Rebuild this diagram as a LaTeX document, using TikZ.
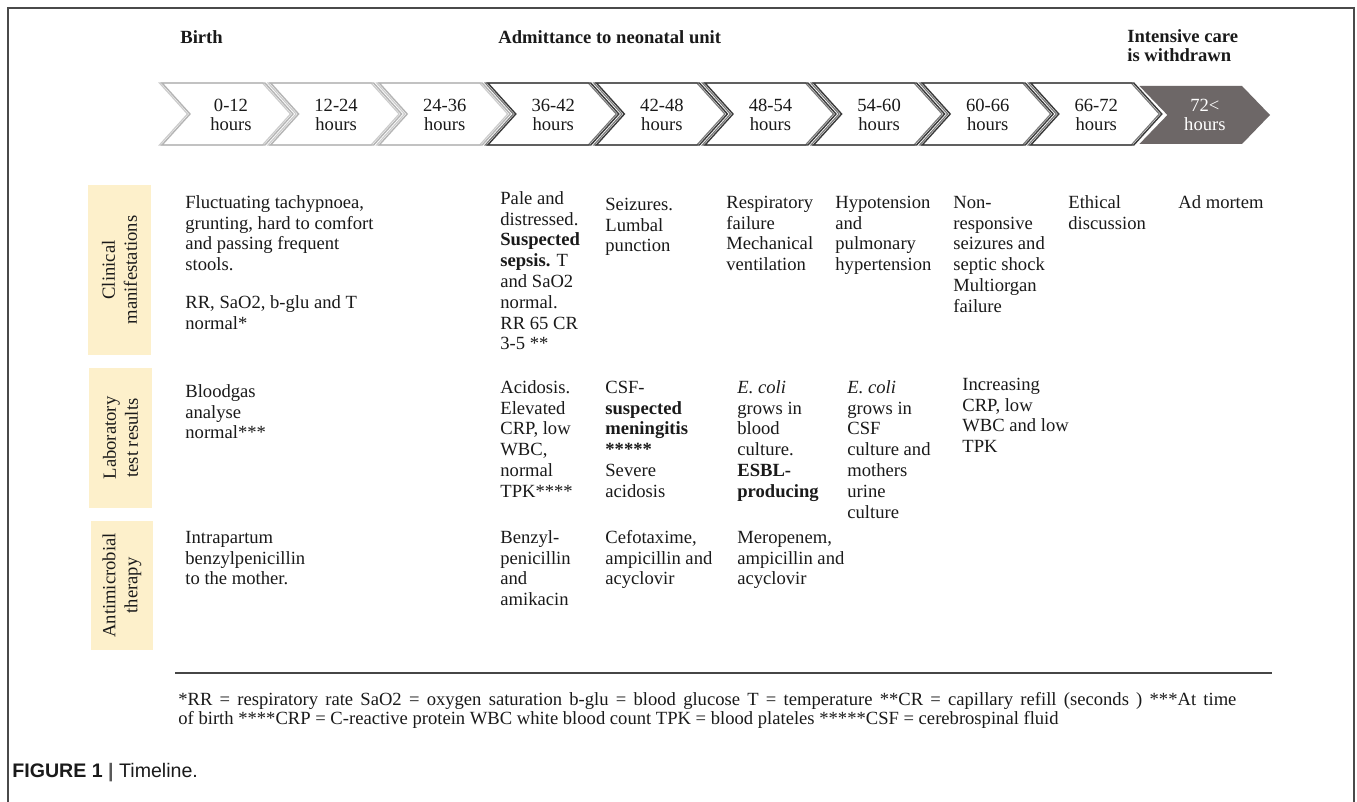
\documentclass[tikz,border=0pt]{standalone}
\usepackage{fontspec}
\setmainfont{Liberation Serif}
\newfontfamily\capfont{Liberation Sans}
\definecolor{beige}{HTML}{FDF0CB}
\definecolor{txt}{HTML}{1A1A1A}
\definecolor{lightedge}{HTML}{B4B4B4}
\definecolor{lightshadow}{HTML}{CCCCCC}
\definecolor{darkedge}{HTML}{3A3A3A}
\definecolor{darkshadow}{HTML}{7A7A7A}
\definecolor{darkfill}{HTML}{6D6767}
\definecolor{framegray}{HTML}{4A4A4A}
\tikzset{
  x=0.5pt, y=-0.5pt,
  body/.style={anchor=north west, inner sep=0pt, align=left, text=txt,
    font=\fontsize{9.3}{10.4}\selectfont},
  hourlab/.style={anchor=north, inner sep=0pt, align=center, text=txt,
    font=\fontsize{9.3}{9.5}\selectfont},
  header/.style={inner sep=0pt, align=left, text=txt,
    font=\fontsize{9.3}{8}\selectfont\bfseries},
  rowbox/.style={fill=beige, draw=none},
  rowlab/.style={rotate=90, align=center, inner sep=0pt, text=txt,
    font=\fontsize{9.3}{11}\selectfont},
  foot/.style={anchor=base west, inner sep=0pt, text=txt,
    font=\fontsize{9.3}{11}\selectfont},
}
\begin{document}
\begin{tikzpicture}
\useasboundingbox (0,0) rectangle (1357,802);
\fill[white] (0,0) rectangle (1357,802);
% frame
\draw[framegray, line width=0.8pt] (8,802) -- (8,8) -- (1354,8) -- (1354,802);

% headers
\node[header, anchor=base west] (hbirth) at (180,44) {Birth};
\node[header, anchor=base west] (hadmit) at (498,44) {Admittance to neonatal unit};
\node[header, anchor=north west] (hwith) at (1127,28.8) {\strut Intensive care\\is withdrawn};

% chevrons
\foreach \i/\ec/\sc in {0/lightedge/lightshadow,1/lightedge/lightshadow,2/lightedge/lightshadow,
  3/darkedge/darkshadow,4/darkedge/darkshadow,5/darkedge/darkshadow,6/darkedge/darkshadow,
  7/darkedge/darkshadow,8/darkedge/darkshadow}{
  \pgfmathsetmacro\xo{162+108.6*\i}
  \fill[white] (\xo,83) -- (\xo+103,83) -- (\xo+131,114) -- (\xo+103,145) -- (\xo,145) -- (\xo+28,114) -- cycle;
  \draw[\sc, line width=0.6pt, line join=miter] (\xo-2.5,83) -- (\xo+100.5,83) -- (\xo+128.5,114) -- (\xo+100.5,145) -- (\xo-2.5,145) -- (\xo+25.5,114) -- cycle;
  \draw[\ec, line width=0.7pt, line join=miter] (\xo,83) -- (\xo+103,83) -- (\xo+131,114) -- (\xo+103,145) -- (\xo,145) -- (\xo+28,114) -- cycle;
}
\fill[darkfill] (1139.4,86) -- (1242,86) -- (1270,115) -- (1242,144) -- (1139.4,144) -- (1167.4,115) -- cycle;

\node[hourlab] (h0) at (231,97.7) {\strut 0-12\\hours};
\node[hourlab] (h1) at (336.1,97.7) {\strut 12-24\\hours};
\node[hourlab] (h2) at (444.7,97.7) {\strut 24-36\\hours};
\node[hourlab] (h3) at (553.3,97.7) {\strut 36-42\\hours};
\node[hourlab] (h4) at (661.9,97.7) {\strut 42-48\\hours};
\node[hourlab] (h5) at (770.5,97.7) {\strut 48-54\\hours};
\node[hourlab] (h6) at (879.1,97.7) {\strut 54-60\\hours};
\node[hourlab] (h7) at (987.7,97.7) {\strut 60-66\\hours};
\node[hourlab] (h8) at (1096.3,97.7) {\strut 66-72\\hours};
\node[hourlab, text=white] (h9) at (1204.9,97.7) {\strut 72<\\hours};

% row label boxes
\node[rowbox, minimum width=31.5pt, minimum height=85pt, inner sep=0pt] (bclin) at (119.5,270) {};
\node[rowbox, minimum width=31.5pt, minimum height=70pt, inner sep=0pt] (blab) at (120.5,438) {};
\node[rowbox, minimum width=31pt, minimum height=64.5pt, inner sep=0pt] (banti) at (122,585.5) {};
\node[rowlab] (lclin) at (bclin.center) {Clinical\\manifestations};
\node[rowlab] (llab) at (blab.center) {Laboratory\\test results};
\node[rowlab] (lanti) at (banti.center) {Antimicrobial\\therapy};

% clinical manifestations
\node[body] (c0) at (185,193.4) {\strut Fluctuating tachypnoea,\\grunting, hard to comfort\\and passing frequent\\stools.\\[8.5pt]RR, SaO2, b-glu and T\\normal*};
\node[body] (c3) at (500,189.4) {\strut Pale and\\distressed.\\\textbf{Suspected}\\\textbf{sepsis.} T\\and SaO2\\normal.\\RR 65 CR\\3-5 **};
\node[body] (c4) at (605,195.4) {\strut Seizures.\\Lumbal\\punction};
\node[body] (c5) at (726,193.4) {\strut Respiratory\\failure\\Mechanical\\ventilation};
\node[body] (c6) at (835,193.4) {\strut Hypotension\\and\\pulmonary\\hypertension};
\node[body] (c7) at (953,193.4) {\strut Non-\\responsive\\seizures and\\septic shock\\Multiorgan\\failure};
\node[body] (c8) at (1068,193.4) {\strut Ethical\\discussion};
\node[body] (c9) at (1178,193.4) {\strut Ad mortem};

% laboratory test results
\node[body] (l0) at (185,382.4) {\strut Bloodgas\\analyse\\normal***};
\node[body] (l3) at (500,378.4) {\strut Acidosis.\\Elevated\\CRP, low\\WBC,\\normal\\TPK****};
\node[body] (l4) at (605,378.4) {\strut CSF-\\\textbf{suspected}\\\textbf{meningitis}\\\textbf{*****}\\Severe\\acidosis};
\node[body] (l5) at (737,378.4) {\strut \textit{E. coli}\\grows in\\blood\\culture.\\\textbf{ESBL-}\\\textbf{producing}};
\node[body] (l6) at (847,378.4) {\strut \textit{E. coli}\\grows in\\CSF\\culture and\\mothers\\urine\\culture};
\node[body] (l7) at (962,375.4) {\strut Increasing\\CRP, low\\WBC and low\\TPK};

% antimicrobial therapy
\node[body] (t0) at (185,528.4) {\strut Intrapartum\\benzylpenicillin\\to the mother.};
\node[body] (t3) at (500,528.4) {\strut Benzyl-\\penicillin\\and\\amikacin};
\node[body] (t4) at (605,528.4) {\strut Cefotaxime,\\ampicillin and\\acyclovir};
\node[body] (t5) at (737,528.4) {\strut Meropenem,\\ampicillin and\\acyclovir};

% rule and footnotes
\coordinate (rl) at (175,673);
\coordinate (rr) at (1272,673);
\draw[gray!55!black, line width=0.9pt] (rl) -- (rr);
\node[foot] (f1) at (178,705) {\makebox[529pt][s]{*RR = respiratory rate SaO2 = oxygen saturation b-glu = blood glucose T = temperature **CR = capillary refill (seconds ) ***At time}};
\node[foot] (f2) at (178,725) {of birth ****CRP = C-reactive protein WBC white blood count TPK = blood plateles *****CSF = cerebrospinal fluid};

% caption
\node[anchor=base west, inner sep=0pt, text=txt, font=\capfont\fontsize{9.8}{12}\selectfont] (cap) at (12,777) {\textbf{FIGURE 1} \textcolor{gray!70!black}{\textbf{|}} Timeline.};
\end{tikzpicture}
\end{document}
